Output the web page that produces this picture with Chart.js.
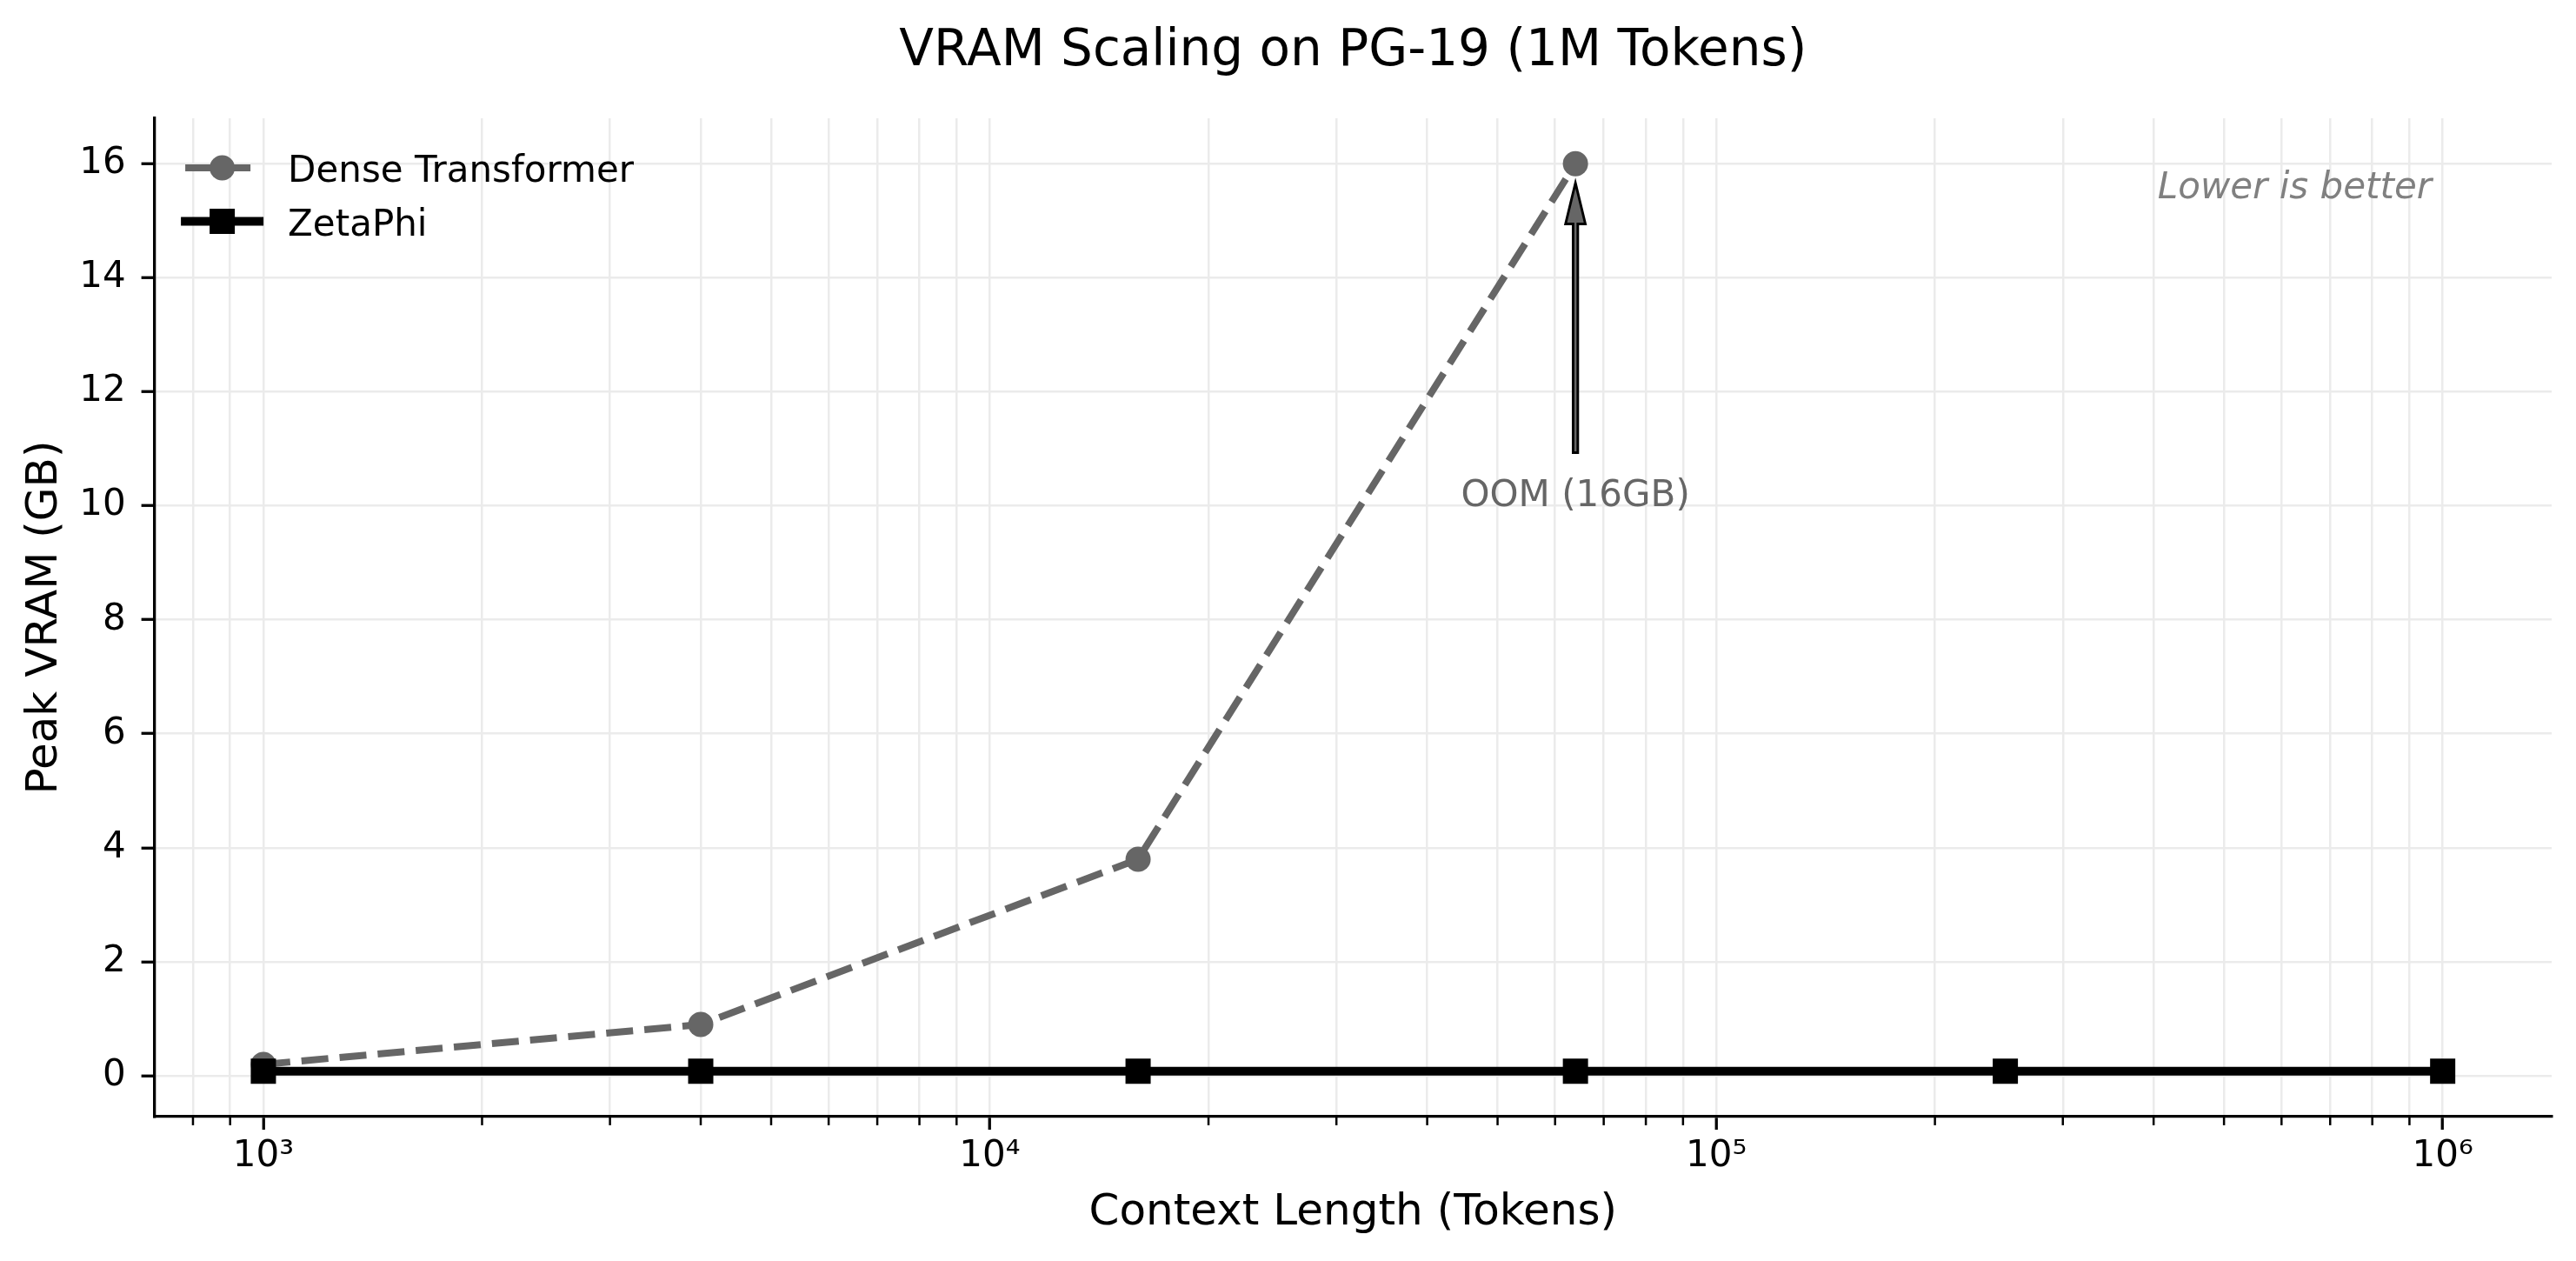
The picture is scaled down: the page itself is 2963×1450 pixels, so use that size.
<!DOCTYPE html>
<html>
<head>
<meta charset="utf-8">
<title>VRAM Scaling on PG-19 (1M Tokens)</title>
<script src="https://cdn.jsdelivr.net/npm/chart.js@4.4.1/dist/chart.umd.min.js"></script>
<style>
  html, body { margin: 0; padding: 0; background: #fff; }
  #wrap { width: 2963px; height: 1450px; }
</style>
</head>
<body>
<div id="wrap"><canvas id="grafica"></canvas></div>
<script>
// data
const contextLengths = [1000, 4000, 16000, 64000, 250000, 1000000];
const denseVram = [0.2, 0.9, 3.8, 16.0];
const zetaPhiVram = [0.08, 0.08, 0.08, 0.08, 0.08, 0.08];
const seriesNames = ['Dense Transformer', 'ZetaPhi'];

// axes
const yTicks = [0, 2, 4, 6, 8, 10, 12, 14, 16];
const xMajorTicks = [1e3, 1e4, 1e5, 1e6];
const xTickLabels = ['10³', '10⁴', '10⁵', '10⁶'];
const xMinorSteps = [2, 3, 4, 5, 6, 7, 8, 9];
const xMin = 10 ** 2.85;
const xMax = 10 ** 6.15;
const yMin = -0.716;
const yMax = 16.796;

// annotation
const oomX = 64000;
const oomLabelY = 10;
const oomArrowFrom = 10.93;
const oomArrowTo = 15.66;
const oomLabel = 'OOM (16GB)';
const titleText = 'VRAM Scaling on PG-19 (1M Tokens)';
const noteText = 'Lower is better';

const FONT = '"DejaVu Sans", sans-serif';
Chart.defaults.font.family = FONT;
Chart.defaults.color = '#000';

const xMinorTicks = [];
[100, 1000, 10000, 100000, 1000000].forEach((base) => {
  xMinorSteps.forEach((m) => {
    const v = base * m;
    if (v > xMin && v < xMax) xMinorTicks.push(v);
  });
});

const toPoints = (ys) => ys.map((v, i) => ({ x: contextLengths[i], y: v }));

const datasets = [
  {
    label: seriesNames[0],
    data: toPoints(denseVram),
    order: 1,
    borderColor: '#666666',
    backgroundColor: '#666666',
    borderWidth: 8,
    borderDash: [31, 13],
    pointStyle: 'circle',
    pointRadius: 14.5,
    pointBorderWidth: 0,
    pointBackgroundColor: '#666666',
    tension: 0,
  },
  {
    label: seriesNames[1],
    data: toPoints(zetaPhiVram),
    order: 0,
    borderColor: '#000000',
    backgroundColor: '#000000',
    borderWidth: 10,
    borderCapStyle: 'square',
    pointStyle: 'rect',
    pointRadius: 20.5,
    pointBorderWidth: 0,
    pointBackgroundColor: '#000000',
    tension: 0,
  },
];

const extras = {
  id: 'extras',
  afterDraw(chart) {
    const { ctx, chartArea: a, scales: { x, y } } = chart;
    ctx.save();

    // title
    ctx.fillStyle = '#000';
    ctx.font = `58px ${FONT}`;
    ctx.textAlign = 'center';
    ctx.textBaseline = 'alphabetic';
    ctx.fillText(titleText, (a.left + a.right) / 2, 75);

    // minor x tick marks
    ctx.strokeStyle = '#000';
    ctx.lineWidth = 2.5;
    xMinorTicks.forEach((v) => {
      const px = x.getPixelForValue(v);
      ctx.beginPath();
      ctx.moveTo(px, a.bottom);
      ctx.lineTo(px, a.bottom + 9.9);
      ctx.stroke();
    });

    // OOM arrow
    const ax = x.getPixelForValue(oomX);
    const tipY = y.getPixelForValue(oomArrowTo);
    const tailY = y.getPixelForValue(oomArrowFrom);
    const hw = 2.7;
    const headW = 11.4;
    const headL = 47;
    ctx.beginPath();
    ctx.moveTo(ax - hw, tailY);
    ctx.lineTo(ax - hw, tipY + headL);
    ctx.lineTo(ax - headW, tipY + headL);
    ctx.lineTo(ax, tipY);
    ctx.lineTo(ax + headW, tipY + headL);
    ctx.lineTo(ax + hw, tipY + headL);
    ctx.lineTo(ax + hw, tailY);
    ctx.closePath();
    ctx.fillStyle = '#666666';
    ctx.fill();
    ctx.lineWidth = 2.9;
    ctx.lineJoin = 'miter';
    ctx.strokeStyle = '#000';
    ctx.stroke();

    ctx.font = `42px ${FONT}`;
    ctx.fillStyle = '#666666';
    ctx.textAlign = 'center';
    ctx.fillText(oomLabel, ax, y.getPixelForValue(oomLabelY));

    // note in the corner
    ctx.font = `italic 42px ${FONT}`;
    ctx.fillStyle = '#808080';
    ctx.textAlign = 'right';
    ctx.fillText(noteText, a.left + 0.95 * (a.right - a.left), a.top + 0.05 * (a.bottom - a.top) + 35);

    // legend (line + marker handles, no frame)
    ctx.font = `42px ${FONT}`;
    ctx.textAlign = 'left';
    chart.data.datasets.forEach((ds, i) => {
      const base = a.top + 73 + i * 61.5;
      const hy = base - 16;
      const x0 = a.left + 35.5;
      const x1 = a.left + 120.5;
      ctx.beginPath();
      ctx.setLineDash(ds.borderDash || []);
      ctx.lineCap = ds.borderCapStyle || 'butt';
      ctx.lineWidth = ds.borderWidth;
      ctx.strokeStyle = ds.borderColor;
      ctx.moveTo(x0, hy);
      ctx.lineTo(x1, hy);
      ctx.stroke();
      ctx.setLineDash([]);
      ctx.fillStyle = ds.pointBackgroundColor;
      ctx.strokeStyle = ds.borderColor;
      Chart.helpers.drawPoint(ctx, {
        pointStyle: ds.pointStyle, rotation: 0, radius: ds.pointRadius, borderWidth: 0,
      }, (x0 + x1) / 2, hy);
      ctx.fillStyle = '#000';
      ctx.fillText(ds.label, a.left + 153.5, base);
    });

    ctx.restore();
  },
};

// eslint-disable-next-line no-new
new Chart(document.getElementById('grafica'), {
  type: 'line',
  data: { datasets },
  options: {
    responsive: true,
    maintainAspectRatio: false,
    devicePixelRatio: 1,
    animation: false,
    events: [],
    layout: { padding: { top: 136, right: 28, bottom: 0, left: 0 } },
    plugins: {
      legend: { display: false },
      title: { display: false },
      tooltip: { enabled: false },
    },
    scales: {
      x: {
        type: 'logarithmic',
        position: 'bottom',
        min: xMin,
        max: xMax,
        afterBuildTicks: (axis) => {
          axis.ticks = [...xMajorTicks, ...xMinorTicks]
            .sort((p, q) => p - q)
            .map((v) => ({ value: v, major: xMajorTicks.includes(v) }));
        },
        afterFit: (axis) => { axis.height = 166; },
        ticks: {
          autoSkip: false,
          maxRotation: 0,
          padding: 6,
          font: { size: 42 },
          color: '#000',
          callback: (value) => {
            const idx = xMajorTicks.indexOf(value);
            return idx >= 0 ? xTickLabels[idx] : '';
          },
        },
        grid: {
          color: '#ebebeb',
          lineWidth: 2.5,
          tickLength: 15,
          tickWidth: 3.3,
          tickColor: (c) => (c.tick && xMajorTicks.includes(c.tick.value) ? '#000' : 'rgba(0,0,0,0)'),
        },
        border: { display: true, color: '#000', width: 3.3 },
        title: {
          display: true,
          text: 'Context Length (Tokens)',
          font: { size: 50 },
          color: '#000',
          padding: { top: 25, bottom: 25 },
        },
      },
      y: {
        type: 'linear',
        position: 'left',
        min: yMin,
        max: yMax,
        afterBuildTicks: (axis) => {
          axis.ticks = yTicks.map((v) => ({ value: v }));
        },
        afterFit: (axis) => { axis.width = 177.6; },
        ticks: {
          padding: 18,
          font: { size: 42 },
          color: '#000',
          callback: (value) => String(value),
        },
        grid: {
          color: '#ebebeb',
          lineWidth: 2.5,
          tickLength: 15,
          tickWidth: 3.3,
          tickColor: '#000',
        },
        border: { display: true, color: '#000', width: 3.3 },
        title: {
          display: true,
          text: 'Peak VRAM (GB)',
          font: { size: 50 },
          color: '#000',
          padding: { top: 22, bottom: 22 },
        },
      },
    },
  },
  plugins: [extras],
});
</script>
</body>
</html>
